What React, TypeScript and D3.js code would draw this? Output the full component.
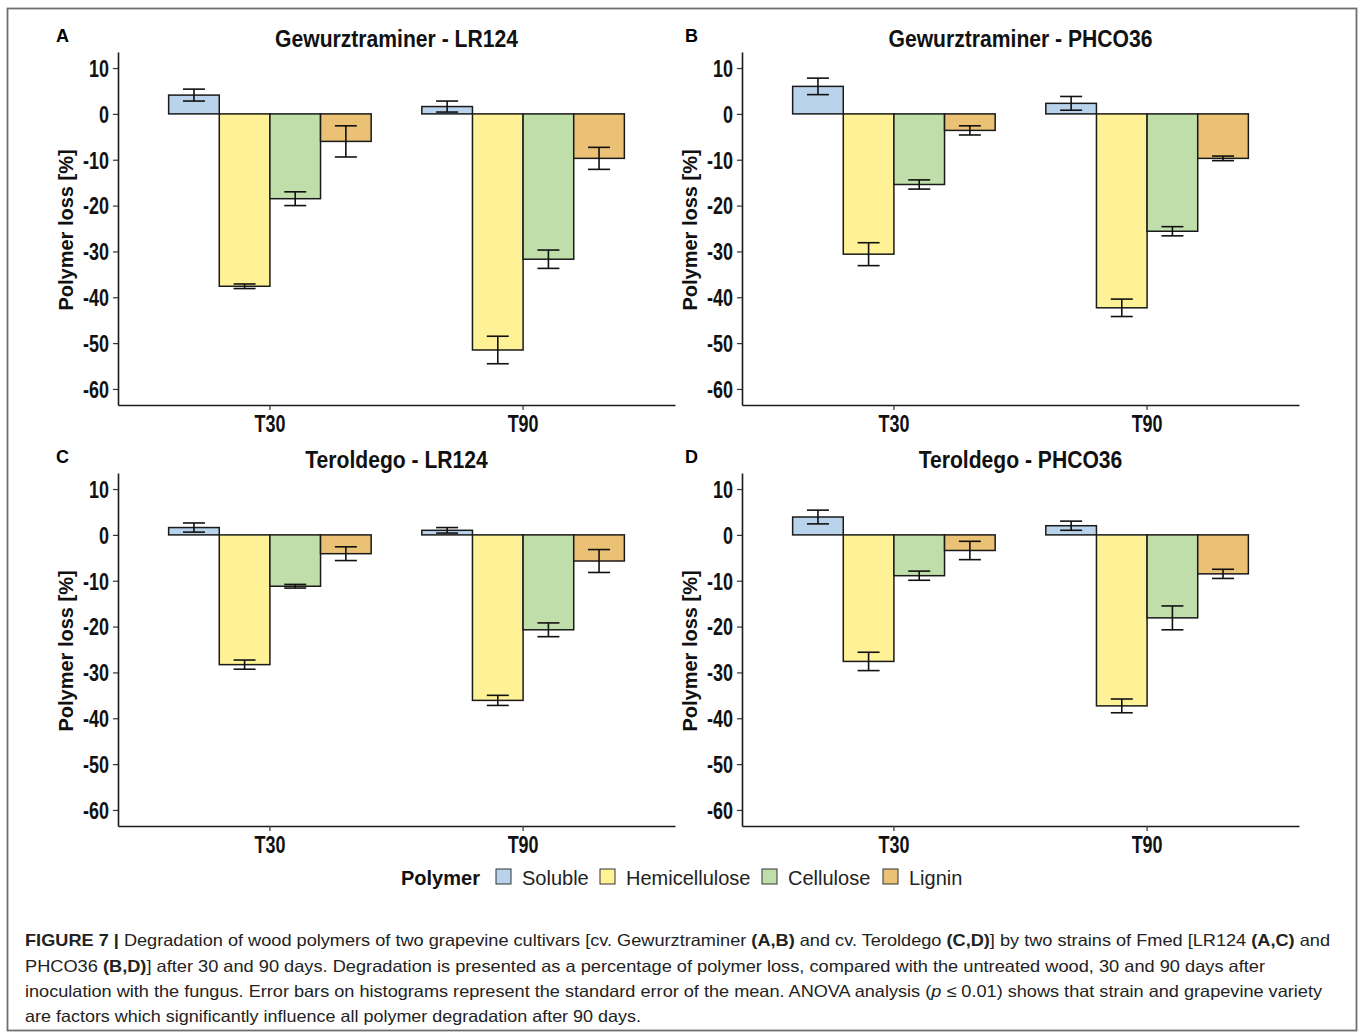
import * as d3 from 'd3';
import React, { useEffect, useRef } from 'react';

// categories and series
const categories = ['T30', 'T90'];
const polymers = ['Soluble', 'Hemicellulose', 'Cellulose', 'Lignin'];
const polymerColors = ['#B9D3EC', '#FFF196', '#BFDEA9', '#EBC176'];
const yTicks = [10, 0, -10, -20, -30, -40, -50, -60];

const panelLetters = ['A', 'B', 'C', 'D'];
const panelTitles = [
  'Gewurztraminer - LR124',
  'Gewurztraminer - PHCO36',
  'Teroldego - LR124',
  'Teroldego - PHCO36',
];

// mean polymer loss, rows = T30, T90 ; columns = polymers
const meansA = [[4.1, -37.6, -18.5, -6.0], [1.6, -51.5, -31.7, -9.7]];
const meansB = [[6.0, -30.6, -15.4, -3.6], [2.3, -42.3, -25.6, -9.7]];
const meansC = [[1.6, -28.3, -11.2, -4.1], [1.0, -36.1, -20.7, -5.7]];
const meansD = [[3.9, -27.6, -8.9, -3.4], [2.0, -37.3, -18.1, -8.5]];

// standard error of the mean
const errorsA = [[1.3, 0.5, 1.5, 3.4], [1.2, 3.0, 2.0, 2.4]];
const errorsB = [[1.8, 2.5, 1.0, 1.0], [1.5, 1.9, 1.0, 0.5]];
const errorsC = [[1.0, 1.0, 0.4, 1.5], [0.6, 1.1, 1.5, 2.5]];
const errorsD = [[1.5, 2.0, 1.0, 2.0], [1.0, 1.5, 2.6, 1.0]];

const allMeans = [meansA, meansB, meansC, meansD];
const allErrors = [errorsA, errorsB, errorsC, errorsD];

const arial = "'Liberation Sans', Arial, sans-serif";
const squeeze = 0.78; // condensed look of the axis text

const App = () => {
  const ref = useRef(null);
  const W = 557;
  const H = 353;
  const panelX = [118, 742];
  const panelY = [52, 473];

  useEffect(() => {
    const svg = d3.select(ref.current);
    svg.selectAll('.plot').remove();

    allMeans.forEach((means, pi) => {
      const col = pi % 2;
      const row = Math.floor(pi / 2);
      const ox = panelX[col];
      const oy = panelY[row];

      const root = svg.append('g').attr('class', 'plot');
      const g = root.append('g').attr('transform', `translate(${ox},${oy})`);

      const x = d3.scaleBand().domain(categories).range([0, W]).paddingInner(0.2).paddingOuter(0.2);
      const xs = d3.scaleBand().domain(polymers).range([0, x.bandwidth()]);
      const y = d3.scaleLinear().domain([-63.5, 13.5]).range([H, 0]);

      const rows = categories.flatMap((c, ci) =>
        polymers.map((p, k) => ({ cat: c, pol: p, k, v: means[ci][k], se: allErrors[pi][ci][k] }))
      );

      // bars
      g.selectAll('rect.bar')
        .data(rows)
        .enter()
        .append('rect')
        .attr('class', 'bar')
        .attr('x', (d) => x(d.cat) + xs(d.pol))
        .attr('width', xs.bandwidth())
        .attr('y', (d) => y(Math.max(0, d.v)))
        .attr('height', (d) => Math.abs(y(d.v) - y(0)))
        .attr('fill', (d) => polymerColors[d.k])
        .attr('stroke', '#1a1a1a')
        .attr('stroke-width', 1.5);

      // error bars
      const cap = 11;
      const eb = g.selectAll('g.err').data(rows).enter().append('g').attr('class', 'err')
        .attr('stroke', '#111').attr('stroke-width', 1.6).attr('fill', 'none');
      const cx = (d) => x(d.cat) + xs(d.pol) + xs.bandwidth() / 2;
      eb.append('line').attr('x1', cx).attr('x2', cx)
        .attr('y1', (d) => y(d.v + d.se)).attr('y2', (d) => y(d.v - d.se));
      eb.append('line').attr('x1', (d) => cx(d) - cap).attr('x2', (d) => cx(d) + cap)
        .attr('y1', (d) => y(d.v + d.se)).attr('y2', (d) => y(d.v + d.se));
      eb.append('line').attr('x1', (d) => cx(d) - cap).attr('x2', (d) => cx(d) + cap)
        .attr('y1', (d) => y(d.v - d.se)).attr('y2', (d) => y(d.v - d.se));

      // axes
      const ya = g.append('g')
        .call(d3.axisLeft(y).tickValues(yTicks).tickFormat((d) => String(d))
          .tickSize(5).tickSizeOuter(0).tickPadding(4));
      const xa = g.append('g')
        .attr('transform', `translate(0,${H})`)
        .call(d3.axisBottom(x).tickSize(5).tickSizeOuter(0).tickPadding(5));
      [ya, xa].forEach((a) => {
        a.select('.domain').attr('stroke', '#1a1a1a').attr('stroke-width', 1.6);
        a.selectAll('.tick line').attr('stroke', '#333').attr('stroke-width', 1.2);
        a.selectAll('.tick text')
          .attr('fill', '#111')
          .attr('transform', `scale(${squeeze},1)`)
          .style('font-family', arial)
          .style('font-size', '23px')
          .style('font-weight', 'bold');
      });
      ya.selectAll('.tick text').attr('x', -9 / squeeze).attr('dy', '0.36em');
      xa.selectAll('.tick text').attr('dy', '0.72em');

      // y label
      root.append('text')
        .attr('transform', `translate(${ox - 45},${oy + 178}) rotate(-90)`)
        .attr('text-anchor', 'middle')
        .style('font-family', arial)
        .style('font-size', '20px')
        .style('font-weight', 'bold')
        .attr('fill', '#111')
        .text('Polymer loss [%]');

      // title
      root.append('text')
        .attr('transform', `translate(${ox + W / 2},${oy - 5}) scale(0.88,1)`)
        .attr('text-anchor', 'middle')
        .style('font-family', arial)
        .style('font-size', '24px')
        .style('font-weight', 'bold')
        .attr('fill', '#111')
        .text(panelTitles[pi]);

      // panel letter
      root.append('text')
        .attr('x', col === 0 ? 56 : 685)
        .attr('y', oy - 10)
        .style('font-family', arial)
        .style('font-size', '18px')
        .style('font-weight', 'bold')
        .attr('fill', '#000')
        .text(panelLetters[pi]);
    });

    // legend
    const lg = svg.append('g').attr('class', 'plot').attr('transform', 'translate(401,885)');
    lg.append('text')
      .style('font-family', arial).style('font-size', '20px').style('font-weight', 'bold')
      .attr('fill', '#111').text('Polymer');
    const keyX = [496, 600, 762, 883];
    polymers.forEach((p, k) => {
      lg.append('rect')
        .attr('x', keyX[k] - 401).attr('y', -16).attr('width', 15).attr('height', 15)
        .attr('fill', polymerColors[k]).attr('stroke', '#333').attr('stroke-width', 1);
      lg.append('text')
        .attr('x', keyX[k] - 401 + 26).attr('y', 0)
        .style('font-family', arial).style('font-size', '20px')
        .attr('fill', '#222').text(p);
    });
  }, []);

  const capStyle = { fontFamily: arial, fontSize: '16.5px', fill: '#222' };
  return (
    <div style={{ position: 'absolute', left: 0, top: 0 }}>
      <svg ref={ref} width={1360} height={1035} style={{ display: 'block', background: '#fff' }}>
        <rect x={7.5} y={8.5} width={1349} height={1022} fill="none" stroke="#6f6f6f" strokeWidth={1.8} />
        <g style={capStyle}>
          <text x={25} y={946} textLength={1305} lengthAdjust="spacingAndGlyphs">
            <tspan fontWeight="bold">FIGURE 7 |</tspan> Degradation of wood polymers of two grapevine cultivars [cv. Gewurztraminer <tspan fontWeight="bold">(A,B)</tspan> and cv. Teroldego <tspan fontWeight="bold">(C,D)</tspan>] by two strains of Fmed [LR124 <tspan fontWeight="bold">(A,C)</tspan> and
          </text>
          <text x={25} y={972} textLength={1240} lengthAdjust="spacingAndGlyphs">
            PHCO36 <tspan fontWeight="bold">(B,D)</tspan>] after 30 and 90 days. Degradation is presented as a percentage of polymer loss, compared with the untreated wood, 30 and 90 days after
          </text>
          <text x={25} y={997} textLength={1297} lengthAdjust="spacingAndGlyphs">
            inoculation with the fungus. Error bars on histograms represent the standard error of the mean. ANOVA analysis (<tspan fontStyle="italic">p</tspan> ≤ 0.01) shows that strain and grapevine variety
          </text>
          <text x={25} y={1022} textLength={616} lengthAdjust="spacingAndGlyphs">
            are factors which significantly influence all polymer degradation after 90 days.
          </text>
        </g>
      </svg>
    </div>
  );
};

export default App;
